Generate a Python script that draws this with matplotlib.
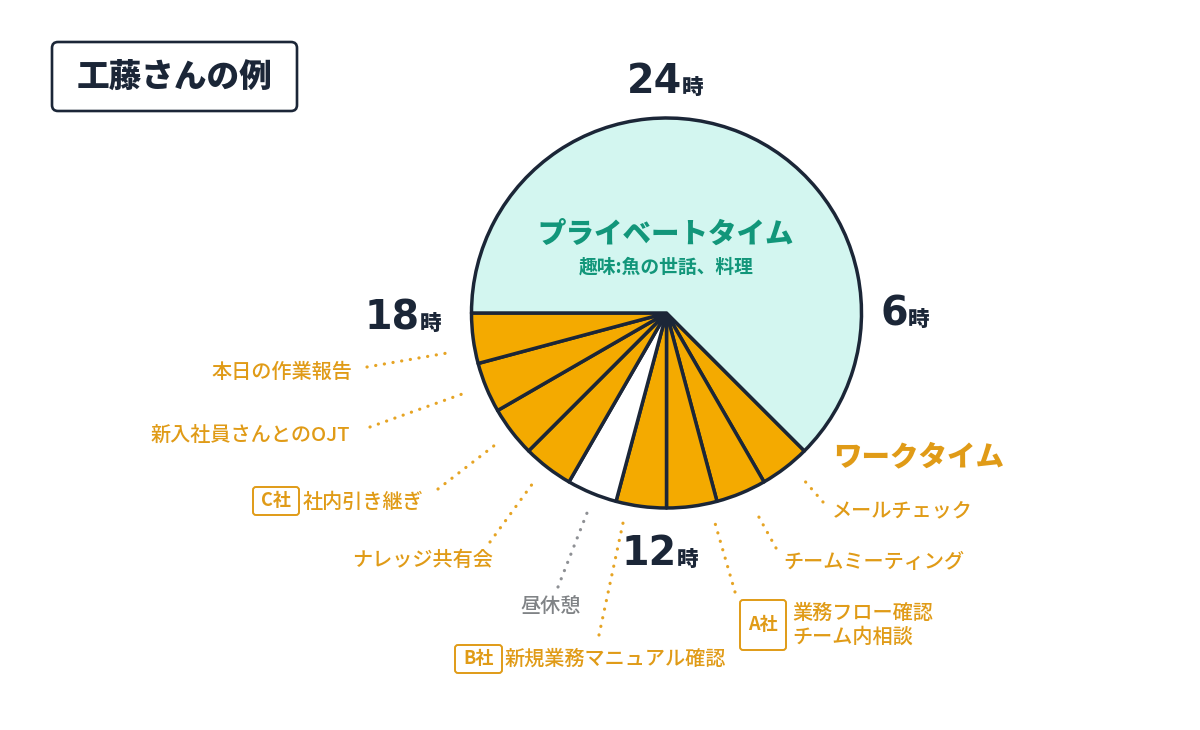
import matplotlib
matplotlib.use("Agg")
import matplotlib.pyplot as plt
from matplotlib.patches import FancyBboxPatch

plt.rcParams['font.family'] = ['Noto Sans CJK JP', 'DejaVu Sans']

# ---- data ----
start_hour = 9
activities = ["メールチェック", "チームミーティング", "業務フロー確認\nチーム内相談",
              "新規業務マニュアル確認", "昼休憩", "ナレッジ共有会", "社内引き継ぎ",
              "新入社員さんとのOJT", "本日の作業報告", "プライベートタイム"]
durations = [1, 1, 1, 1, 1, 1, 1, 1, 1, 15]
kinds = ["work", "work", "work", "work", "lunch", "work", "work", "work", "work", "private"]
clients = ["", "", "A社", "B社", "", "", "C社", "", "", ""]
clock_labels = ["24", "6", "12", "18"]
title = "工藤さんの例"
private_title = "プライベートタイム"
private_sub = "趣味:魚の世話、料理"
work_title = "ワークタイム"

# ---- style ----
DARK = '#1B2637'
ORANGE_FILL = '#F4AA00'
ORANGE_TXT = '#E09B17'
ORANGE_DOT = '#E6A424'
PRIVATE_FILL = '#D3F6F0'
TEAL = '#12967A'
GRAY = '#808386'
color_map = {"work": ORANGE_FILL, "lunch": "#FFFFFF", "private": PRIVATE_FILL}

W, H = 1200, 730
fig = plt.figure(figsize=(12, 7.3), dpi=100)
ax = fig.add_axes([0, 0, 1, 1])

def Y(y):
    return H - y

cx, cy, R = 666.5, 313, 195
ax.pie(durations, colors=[color_map[k] for k in kinds],
       startangle=90 - start_hour * 15, counterclock=False,
       center=(cx, Y(cy)), radius=R,
       wedgeprops=dict(edgecolor=DARK, linewidth=2.5, joinstyle='round'))
ax.set_xlim(0, W)
ax.set_ylim(0, H)
ax.set_aspect('equal')
ax.axis('off')

# title box
ax.add_patch(FancyBboxPatch((52, Y(111)), 245, 69,
                            boxstyle="round,pad=0,rounding_size=6",
                            fc='white', ec=DARK, lw=1.9))
ax.text(174, Y(77), title, fontsize=23.5, fontweight='heavy', color=DARK,
        ha='center', va='center')

# clock labels: (right end of number, baseline)
clock_pos = [(682, 93), (908, 325), (677, 565), (420, 329)]
for lab, (xe, yb) in zip(clock_labels, clock_pos):
    ax.text(xe, Y(yb), lab, fontsize=28.5, fontweight='bold', color=DARK,
            family='DejaVu Sans', ha='right', va='baseline')
    ax.text(xe, Y(yb) - 1, "時", fontsize=15.5, fontweight='heavy', color=DARK,
            ha='left', va='baseline')

# private time text
ax.text(666, Y(234), private_title, fontsize=20.5, fontweight='heavy', color=TEAL,
        ha='center', va='center')
ax.text(666, Y(267), private_sub, fontsize=13.5, fontweight='bold', color=TEAL,
        ha='center', va='center')

# work time title
ax.text(833, Y(457), work_title, fontsize=20.5, fontweight='heavy', color=ORANGE_TXT,
        ha='left', va='center')

# activity labels: text anchor, ha, leader line start (label side) and end (pie side)
label_layout = [
    dict(xy=(832, 511), ha='left', line=((823, 502), (803, 479))),
    dict(xy=(783, 562), ha='left', line=((776, 548), (755, 510))),
    dict(xy=(792, 625), ha='left', line=((735, 592), (715, 523)), box=(740, 600, 46, 50)),
    dict(xy=(505, 659), ha='left', line=((599, 635), (623, 523)), box=(455, 645, 47, 28)),
    dict(xy=(551, 607), ha='center', line=((558, 587), (587, 513))),
    dict(xy=(493, 560), ha='right', line=((490, 542), (533, 483))),
    dict(xy=(303, 502), ha='left', line=((438, 489), (495, 445)), box=(253, 487, 46, 28)),
    dict(xy=(350, 435), ha='right', line=((370, 427), (465, 393))),
    dict(xy=(352, 372), ha='right', line=((367, 367), (453, 352))),
]
for name, kind, client, lay in zip(activities, kinds, clients, label_layout):
    tc = GRAY if kind == "lunch" else ORANGE_TXT
    lc = '#8E9094' if kind == "lunch" else ORANGE_DOT
    x, y = lay['xy']
    ax.text(x, Y(y), name, fontsize=14.5, fontweight='medium', color=tc,
            ha=lay['ha'], va='center', linespacing=1.25)
    (x0, y0), (x1, y1) = lay['line']
    ax.plot([x0, x1], [Y(y0), Y(y1)], color=lc, lw=2.3,
            linestyle=(0, (0.05, 2.7)), dash_capstyle='round')
    if client:
        bx, by, bw, bh = lay['box']
        ax.add_patch(FancyBboxPatch((bx, Y(by + bh)), bw, bh,
                                    boxstyle="round,pad=0,rounding_size=3",
                                    fc='white', ec=ORANGE_TXT, lw=1.4))
        ax.text(bx + bw / 2, Y(by + bh / 2), client, fontsize=13, fontweight='bold',
                color=ORANGE_TXT, ha='center', va='center')

fig.savefig("out.png", dpi=100)
